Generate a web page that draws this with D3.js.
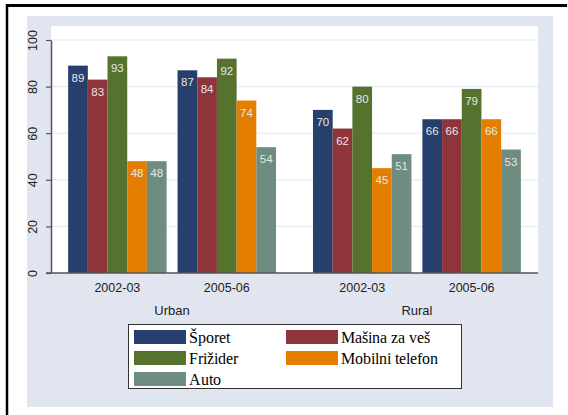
<!DOCTYPE html>
<html>
<head>
<meta charset="utf-8">
<script src="https://cdn.jsdelivr.net/npm/d3@7"></script>
<style>
  body { margin: 0; background: #fff; }
  @font-face {
    font-family: "LegendSerif";
    src: local("Liberation Serif"), local("LiberationSerif-Regular"), local("DejaVu Serif"), local("DejaVuSerif");
  }
</style>
</head>
<body>
<div id="chart"></div>
<script>
let areas = ["Urban", "Rural"];
let years = ["2002-03", "2005-06"];
let items = ["Šporet", "Mašina za veš", "Frižider", "Mobilni telefon", "Auto"];
let colors = ["#263f6c", "#8e353c", "#55732e", "#e37e00", "#6e8c80"];
// values[area][year][item]
let urbanValues = [[89, 83, 93, 48, 48], [87, 84, 92, 74, 54]];
let ruralValues = [[70, 62, 80, 45, 51], [66, 66, 79, 66, 53]];
let yTicks = [0, 20, 40, 60, 80, 100];

let width = 568, height = 415;
let plotLeft = 51, plotRight = 538, plotTop = 26, plotBottom = 273;
let sansFont = "Liberation Sans, Arial, sans-serif";
let serifFont = "LegendSerif, 'Liberation Serif', 'DejaVu Serif', serif";

var svg = d3.select("#chart").append("svg")
	.attr("width", width)
	.attr("height", height);

// outer frame lines
svg.append("line").attr("x1", 6).attr("x2", 567).attr("y1", 5.5).attr("y2", 5.5)
	.style("stroke", "#000").style("stroke-width", 3);
svg.append("line").attr("x1", 7).attr("x2", 7).attr("y1", 4).attr("y2", 415)
	.style("stroke", "#000").style("stroke-width", 2.5);

// graph region background
svg.append("rect").attr("x", 27).attr("y", 16).attr("width", 526).attr("height", 391)
	.style("fill", "#e1e5f0");
// plot region
svg.append("rect").attr("x", plotLeft).attr("y", plotTop)
	.attr("width", plotRight - plotLeft).attr("height", plotBottom - plotTop)
	.style("fill", "#fff");

var y = d3.scaleLinear().domain([0, 100]).range([plotBottom, 40]);

var xArea = d3.scaleBand().domain(areas).range([plotLeft, plotRight])
	.paddingInner(0.151).paddingOuter(0.07);
var xYear = d3.scaleBand().domain(years).range([0, xArea.bandwidth()])
	.paddingInner(0.1).paddingOuter(0);
var xItem = d3.scaleBand().domain(items).range([0, xYear.bandwidth()]);

// gridlines
svg.selectAll(".grid")
	.data(yTicks.filter(d => d > 0))
	.enter().append("line")
	.attr("class", "grid")
	.attr("x1", plotLeft).attr("x2", plotRight)
	.attr("y1", d => y(d)).attr("y2", d => y(d))
	.style("stroke", "#e3e7f1").style("stroke-width", 1);

// y axis
var yAxis = svg.append("g")
	.attr("transform", "translate(" + plotLeft + ",0)")
	.call(d3.axisLeft(y).tickValues(yTicks).tickSize(5).tickSizeOuter(0).tickFormat(d3.format("d")))
	.attr("font-family", sansFont)
	.attr("font-size", 12.5);
yAxis.select(".domain").style("stroke", "#555").style("stroke-width", 1.5);
yAxis.selectAll(".tick line").style("stroke", "#555").style("stroke-width", 1.2);
yAxis.selectAll(".tick text")
	.attr("x", 0).attr("dy", 0)
	.attr("transform", "translate(-14,0) rotate(-90)")
	.attr("text-anchor", "middle")
	.style("fill", "#222");

var data = [];
areas.forEach(function(a, ai) {
	var vals = ai == 0 ? urbanValues : ruralValues;
	years.forEach(function(yr, yi) {
		items.forEach(function(it, ii) {
			data.push({ area: a, year: yr, item: it, idx: ii, value: vals[yi][ii] });
		});
	});
});

function barX(d) { return xArea(d.area) + xYear(d.year) + xItem(d.item); }

svg.selectAll(".bar")
	.data(data)
	.enter().append("rect")
	.attr("class", "bar")
	.attr("x", barX)
	.attr("y", d => y(d.value))
	.attr("width", xItem.bandwidth())
	.attr("height", d => y(0) - y(d.value))
	.style("fill", d => colors[d.idx]);

svg.selectAll(".vlabel")
	.data(data)
	.enter().append("text")
	.attr("class", "vlabel")
	.attr("x", d => barX(d) + xItem.bandwidth() / 2)
	.attr("y", d => y(d.value) + 16)
	.attr("text-anchor", "middle")
	.attr("font-family", sansFont)
	.attr("font-size", 11.5)
	.style("fill", "#e6e6e6")
	.text(d => d.value);

// x axis line
svg.append("line").attr("x1", plotLeft - 5).attr("x2", plotRight)
	.attr("y1", plotBottom).attr("y2", plotBottom)
	.style("stroke", "#555").style("stroke-width", 1.5);

// year labels and area labels
areas.forEach(function(a) {
	years.forEach(function(yr) {
		svg.append("text")
			.attr("x", xArea(a) + xYear(yr) + xYear.bandwidth() / 2)
			.attr("y", 292)
			.attr("text-anchor", "middle")
			.attr("font-family", sansFont)
			.attr("font-size", 12.5)
			.style("fill", "#222")
			.text(yr);
	});
	svg.append("text")
		.attr("x", xArea(a) + xArea.bandwidth() / 2)
		.attr("y", 315)
		.attr("text-anchor", "middle")
		.attr("font-family", sansFont)
		.attr("font-size", 13)
		.style("fill", "#222")
		.text(a);
});

// legend
var legend = svg.append("g");
legend.append("rect").attr("x", 128.5).attr("y", 324.5).attr("width", 333).attr("height", 64)
	.style("fill", "#fff").style("stroke", "#333").style("stroke-width", 1);
items.forEach(function(it, i) {
	var col = i % 2, row = Math.floor(i / 2);
	var lx = col == 0 ? 134 : 286;
	var ly = 330 + row * 21;
	legend.append("rect").attr("x", lx).attr("y", ly).attr("width", 52).attr("height", 14)
		.style("fill", colors[i]);
	legend.append("text")
		.attr("x", lx + 55).attr("y", ly + 13)
		.style("font-family", serifFont)
		.style("font-size", "16px")
		.style("fill", "#000")
		.text(it);
});
</script>
</body>
</html>
